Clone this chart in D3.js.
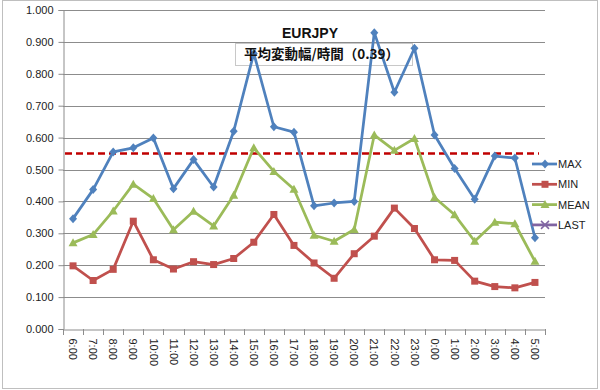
<!DOCTYPE html>
<html>
<head>
<meta charset="utf-8">
<script src="https://cdn.jsdelivr.net/npm/d3@7"></script>
<style>
body { margin: 0; background: #fff; }
svg { display: block; font-family: "Liberation Sans", Arial, sans-serif; }
</style>
</head>
<body>
<div id="chart"></div>
<script>
var hours = ["6:00", "7:00", "8:00", "9:00", "10:00", "11:00", "12:00", "13:00", "14:00", "15:00",
    "16:00", "17:00", "18:00", "19:00", "20:00", "21:00", "22:00", "23:00", "0:00", "1:00",
    "2:00", "3:00", "4:00", "5:00"];

var maxVals = [0.346, 0.437, 0.555, 0.568, 0.599, 0.440, 0.531, 0.445, 0.620, 0.864,
    0.634, 0.617, 0.386, 0.395, 0.400, 0.929, 0.742, 0.880, 0.608, 0.503,
    0.407, 0.542, 0.536, 0.286];

var minVals = [0.198, 0.152, 0.187, 0.338, 0.217, 0.188, 0.211, 0.202, 0.221, 0.272,
    0.359, 0.262, 0.207, 0.159, 0.236, 0.291, 0.379, 0.315, 0.217, 0.215,
    0.150, 0.133, 0.129, 0.146];

var meanVals = [0.270, 0.296, 0.370, 0.454, 0.409, 0.311, 0.369, 0.323, 0.419, 0.568,
    0.494, 0.438, 0.294, 0.275, 0.312, 0.608, 0.560, 0.597, 0.412, 0.358,
    0.275, 0.335, 0.330, 0.212];

var lastVals = [];

var yTicks = [0, 0.1, 0.2, 0.3, 0.4, 0.5, 0.6, 0.7, 0.8, 0.9, 1.0];
var avgLine = 0.55;
var title = "EURJPY";
var subtitle = "平均変動幅/時間（0.39）";

var series = [
    { name: "MAX", values: maxVals, color: "#4F81BD", marker: "diamond" },
    { name: "MIN", values: minVals, color: "#C0504D", marker: "square" },
    { name: "MEAN", values: meanVals, color: "#9BBB59", marker: "triangle" },
    { name: "LAST", values: lastVals, color: "#8064A2", marker: "cross" }
];

var width = 600, height = 390;
var margin = { top: 10, right: 55, bottom: 61, left: 63 };

var svg = d3.select("#chart").append("svg")
    .attr("width", width)
    .attr("height", height);

// outer frame
svg.append("rect")
    .attr("x", 2.5).attr("y", 0.5)
    .attr("width", 595).attr("height", 388)
    .attr("fill", "#fff")
    .attr("stroke", "#bfbfbf");

var x = d3.scaleBand()
    .domain(hours)
    .range([margin.left, width - margin.right]);

var y = d3.scaleLinear()
    .domain([0, 1])
    .range([height - margin.bottom, margin.top]);

// gridlines
svg.append("g")
    .selectAll("line")
    .data(yTicks.slice(1))
    .enter().append("line")
    .attr("x1", margin.left)
    .attr("x2", width - margin.right)
    .attr("y1", function (d) { return Math.round(y(d)) + 0.5; })
    .attr("y2", function (d) { return Math.round(y(d)) + 0.5; })
    .attr("stroke", "#8c8c8c")
    .attr("stroke-width", 1);

// y axis
var yAxis = svg.append("g")
    .attr("transform", "translate(" + (margin.left + 0.5) + ",0)")
    .call(d3.axisLeft(y).tickValues(yTicks).tickFormat(d3.format(".3f")).tickSize(5).tickPadding(5));
yAxis.select(".domain").attr("stroke", "#8c8c8c");
yAxis.selectAll(".tick line").attr("stroke", "#8c8c8c");
yAxis.selectAll(".tick text").attr("fill", "#222").attr("font-size", "11px");

// x axis
var xAxis = svg.append("g")
    .attr("transform", "translate(0," + (Math.round(y(0)) + 0.5) + ")")
    .call(d3.axisBottom(x).tickSize(0).tickPadding(0));
xAxis.select(".domain").attr("stroke", "#8c8c8c");
xAxis.selectAll(".tick text")
    .attr("fill", "#222")
    .attr("font-size", "11px")
    .attr("text-anchor", "start")
    .attr("dy", "0.35em")
    .attr("transform", "translate(0,9) rotate(90)");

svg.append("g")
    .selectAll("line")
    .data(hours.concat(["end"]))
    .enter().append("line")
    .attr("x1", function (d, i) { return Math.round(margin.left + i * x.bandwidth()) + 0.5; })
    .attr("x2", function (d, i) { return Math.round(margin.left + i * x.bandwidth()) + 0.5; })
    .attr("y1", y(0))
    .attr("y2", y(0) + 6)
    .attr("stroke", "#8c8c8c");

// subtitle box
svg.append("rect")
    .attr("x", 235.5).attr("y", 43.5)
    .attr("width", 177).attr("height", 22)
    .attr("fill", "none")
    .attr("stroke", "#c8c8c8");

var cx = function (d, i) { return x(hours[i]) + x.bandwidth() / 2; };

var line = d3.line()
    .x(function (d, i) { return x(hours[i]) + x.bandwidth() / 2; })
    .y(function (d) { return y(d); });

// average dashed line
svg.append("line")
    .attr("x1", margin.left + 2)
    .attr("x2", width - margin.right - 6)
    .attr("y1", y(avgLine))
    .attr("y2", y(avgLine))
    .attr("stroke", "#C00000")
    .attr("stroke-width", 2.5)
    .attr("stroke-dasharray", "7,4");

function drawMarker(g, type, color, px, py) {
    if (type === "diamond") {
        g.append("path")
            .attr("d", "M" + px + "," + (py - 4.5) + "L" + (px + 4) + "," + py + "L" + px + "," + (py + 4.5) + "L" + (px - 4) + "," + py + "Z")
            .attr("fill", color);
    } else if (type === "square") {
        g.append("rect")
            .attr("x", px - 3.5).attr("y", py - 3.5)
            .attr("width", 7).attr("height", 7)
            .attr("fill", color);
    } else if (type === "triangle") {
        g.append("path")
            .attr("d", "M" + px + "," + (py - 4.5) + "L" + (px + 4.5) + "," + (py + 3.5) + "L" + (px - 4.5) + "," + (py + 3.5) + "Z")
            .attr("fill", color);
    } else {
        g.append("path")
            .attr("d", "M" + (px - 4) + "," + (py - 4) + "L" + (px + 4) + "," + (py + 4) + "M" + (px + 4) + "," + (py - 4) + "L" + (px - 4) + "," + (py + 4))
            .attr("stroke", color)
            .attr("stroke-width", 1.5);
    }
}

// series, MAX drawn last so it sits on top
series.slice().reverse().forEach(function (s) {
    var g = svg.append("g");
    if (s.values.length === 0) return;
    g.append("path")
        .datum(s.values)
        .attr("d", line)
        .attr("fill", "none")
        .attr("stroke", s.color)
        .attr("stroke-width", 2.75)
        .attr("stroke-linejoin", "round");
    s.values.forEach(function (v, i) {
        drawMarker(g, s.marker, s.color, cx(v, i), y(v));
    });
});

// titles
svg.append("text")
    .attr("x", 310).attr("y", 38)
    .attr("text-anchor", "middle")
    .attr("font-size", "14px")
    .attr("font-weight", "bold")
    .attr("fill", "#111")
    .text(title);

svg.append("text")
    .attr("x", 244).attr("y", 59)
    .attr("font-size", "13.5px")
    .attr("font-weight", "bold")
    .attr("font-family", "'Noto Sans CJK JP', sans-serif")
    .attr("fill", "#111")
    .text(subtitle);

// legend
var legend = svg.append("g");
series.forEach(function (s, i) {
    var ly = 164 + i * 20.3;
    legend.append("line")
        .attr("x1", 532).attr("x2", 557)
        .attr("y1", ly).attr("y2", ly)
        .attr("stroke", s.color)
        .attr("stroke-width", 2.75);
    drawMarker(legend, s.marker, s.color, 545, ly);
    legend.append("text")
        .attr("x", 558).attr("y", ly)
        .attr("dy", "0.36em")
        .attr("font-size", "11px")
        .attr("fill", "#222")
        .text(s.name);
});
</script>
</body>
</html>
